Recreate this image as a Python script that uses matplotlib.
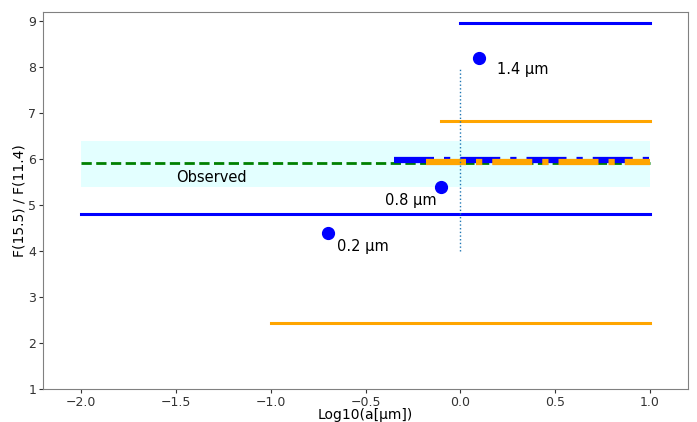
import numpy as np
import matplotlib.pyplot as plt

# observed ratio and band
obs_val = 5.91
obs_lo, obs_hi = 5.4, 6.4
obs_x = [-2.0, 1.0]

# model lines: (y, x_start, x_end)
blue_lines = [(4.8, -2.0, 1.0), (8.95, 0.0, 1.0)]
orange_lines = [(2.43, -1.0, 1.0), (6.82, -0.1, 1.0)]
blue_dash = (5.98, -0.35, 1.0)
orange_dash = (5.93, -0.18, 1.0)

# grain size points
pt_x = [-0.7, -0.1, 0.1]
pt_y = [4.39, 5.39, 8.2]
pt_lab = ["0.2 µm", "0.8 µm", "1.4 µm"]
lab_x = [-0.65, -0.395, 0.195]
lab_y = [4.1, 5.1, 7.95]

fig = plt.figure(figsize=(6.97, 4.22), dpi=100)
ax = fig.add_axes([43/697, 33/422, 645/697, 377/422])

ax.fill_between(obs_x, obs_lo, obs_hi, color='lightcyan', alpha=0.9, lw=0)
ax.plot(obs_x, [obs_val, obs_val], '--', color='green', lw=2)
ax.text(-1.5, 5.59, "Observed", fontsize=10.5, va='center')

for y, x0, x1 in blue_lines:
    ax.plot([x0, x1], [y, y], color='blue', lw=2.2)
for y, x0, x1 in orange_lines:
    ax.plot([x0, x1], [y, y], color='orange', lw=2.2)

ax.plot([blue_dash[1], blue_dash[2]], [blue_dash[0]] * 2, '-.', color='blue', lw=4.5)
ax.plot([orange_dash[1], orange_dash[2]], [orange_dash[0]] * 2, '-.', color='orange', lw=4.5)

ax.plot([0, 0], [4, 8], ':', color='tab:blue', lw=1)

ax.plot(pt_x, pt_y, 'o', color='blue', ms=8.5)
for x, y, t, lx, ly in zip(pt_x, pt_y, pt_lab, lab_x, lab_y):
    ax.text(lx, ly, t, fontsize=10.5, va='center')

ax.set_xlim(-2.2, 1.2)
ax.set_ylim(1, 9.2)
ax.set_xlabel("Log10(a[µm])", fontsize=10, labelpad=-1)
ax.set_ylabel("F(15.5) / F(11.4)", fontsize=10, labelpad=1)
ax.tick_params(labelsize=9, colors='#333333', length=3, pad=2)
for s in ax.spines.values():
    s.set_color('gray')
plt.savefig("out.png")
